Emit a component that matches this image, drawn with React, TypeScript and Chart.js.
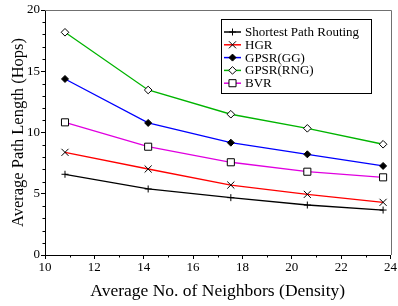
import React, { useEffect, useRef } from "react";
import { Chart, registerables } from "chart.js";

Chart.register(...registerables);

const density = [10.81, 14.18, 17.53, 20.63, 23.7];
const shortestPath = [6.59, 5.39, 4.68, 4.08, 3.67];
const hgr = [8.38, 7.02, 5.71, 4.95, 4.3];
const gpsrGG = [14.37, 10.78, 9.17, 8.22, 7.27];
const gpsrRNG = [18.18, 13.47, 11.49, 10.34, 9.04];
const bvr = [10.83, 8.84, 7.57, 6.8, 6.34];

const seriesNames = ["Shortest Path Routing", "HGR", "GPSR(GG)", "GPSR(RNG)", "BVR"];

const FONT = "'Liberation Serif', 'Times New Roman', serif";

function pts(ys: number[]) {
  return ys.map((y, i) => ({ x: density[i], y }));
}

const minorTicks = {
  id: "minorTicks",
  afterDraw(chart: any) {
    const { ctx, chartArea, scales } = chart;
    const xs = scales.x;
    const ys = scales.y;
    ctx.save();
    ctx.strokeStyle = "#000";
    ctx.lineWidth = 1;
    ctx.beginPath();
    for (let v = 10; v <= 24; v += 1) {
      if (v % 2 === 0) continue;
      const px = Math.round(xs.getPixelForValue(v)) + 0.5;
      ctx.moveTo(px, chartArea.bottom);
      ctx.lineTo(px, chartArea.bottom + 2.5);
    }
    for (let v = 0; v <= 20; v += 1) {
      if (v % 5 === 0) continue;
      const py = Math.round(ys.getPixelForValue(v)) + 0.5;
      ctx.moveTo(chartArea.left, py);
      ctx.lineTo(chartArea.left - 2.5, py);
    }
    ctx.stroke();
    // frame top/right
    ctx.strokeStyle = "#707070";
    ctx.beginPath();
    ctx.moveTo(chartArea.left, Math.round(chartArea.top) + 0.5);
    ctx.lineTo(Math.round(chartArea.right) + 0.5, Math.round(chartArea.top) + 0.5);
    ctx.lineTo(Math.round(chartArea.right) + 0.5, chartArea.bottom);
    ctx.stroke();
    ctx.restore();
  },
};

function drawMarker(ctx: CanvasRenderingContext2D, style: string, x: number, y: number, r: number, fill: string) {
  ctx.save();
  ctx.strokeStyle = "#000";
  ctx.fillStyle = fill;
  ctx.lineWidth = 1;
  ctx.beginPath();
  if (style === "cross") {
    ctx.moveTo(x - r, y);
    ctx.lineTo(x + r, y);
    ctx.moveTo(x, y - r);
    ctx.lineTo(x, y + r);
    ctx.stroke();
  } else if (style === "crossRot") {
    const d = r * Math.SQRT1_2;
    ctx.moveTo(x - d, y - d);
    ctx.lineTo(x + d, y + d);
    ctx.moveTo(x - d, y + d);
    ctx.lineTo(x + d, y - d);
    ctx.stroke();
  } else if (style === "rectRot") {
    ctx.moveTo(x, y - r);
    ctx.lineTo(x + r, y);
    ctx.lineTo(x, y + r);
    ctx.lineTo(x - r, y);
    ctx.closePath();
    ctx.fill();
    ctx.stroke();
  } else if (style === "rect") {
    const s = r * Math.SQRT1_2;
    ctx.rect(x - s, y - s, 2 * s, 2 * s);
    ctx.fill();
    ctx.stroke();
  }
  ctx.restore();
}

const boxLegend = {
  id: "boxLegend",
  afterDraw(chart: any) {
    const { ctx } = chart;
    const left = 221.5;
    const top = 19.5;
    const width = 150;
    const height = 74;
    ctx.save();
    ctx.fillStyle = "#fff";
    ctx.fillRect(left, top, width, height);
    ctx.strokeStyle = "#000";
    ctx.lineWidth = 1;
    ctx.strokeRect(left, top, width, height);
    ctx.font = "13px " + FONT;
    ctx.textBaseline = "middle";
    ctx.textAlign = "left";
    chart.data.datasets.forEach((ds: any, i: number) => {
      const y = 32 + i * 12.8;
      ctx.strokeStyle = ds.borderColor;
      ctx.lineWidth = 1.5;
      ctx.beginPath();
      ctx.moveTo(224, y);
      ctx.lineTo(241, y);
      ctx.stroke();
      drawMarker(ctx, ds.pointStyle, 232.5, y, ds.pointRadius, ds.pointBackgroundColor);
      ctx.fillStyle = "#000";
      ctx.fillText(ds.label, 245, y + 0.5);
    });
    ctx.restore();
  },
};

export default function App() {
  const ref = useRef<HTMLCanvasElement | null>(null);
  useEffect(() => {
    document.body.style.margin = "0";
    const canvas = ref.current!;
    const mk = (i: number, data: number[], color: string, style: string, r: number, fill: string) => ({
      label: seriesNames[i],
      data: pts(data),
      borderColor: color,
      borderWidth: 1.3,
      pointStyle: style,
      pointRadius: r,
      pointBorderColor: "#000",
      pointBackgroundColor: fill,
      pointBorderWidth: 1,
      fill: false,
      tension: 0,
    });
    const chart = new Chart(canvas, {
      type: "line",
      data: {
        datasets: [
          mk(0, shortestPath, "#000000", "cross", 3.5, "#000"),
          mk(1, hgr, "#ff0000", "crossRot", 5, "#000"),
          mk(2, gpsrGG, "#0000ff", "rectRot", 3.5, "#000"),
          mk(3, gpsrRNG, "#00b400", "rectRot", 3.8, "#fff"),
          mk(4, bvr, "#e000e0", "rect", 5, "#fff"),
        ] as any,
      },
      options: {
        responsive: false,
        animation: false,
        layout: { padding: { left: 0, top: 10, right: 6, bottom: 0 } },
        plugins: { legend: { display: false }, tooltip: { enabled: false } },
        scales: {
          x: {
            type: "linear",
            min: 10,
            max: 24,
            afterFit: (s: any) => { s.height = 51; },
            ticks: { stepSize: 2, color: "#000", font: { family: FONT, size: 13 }, padding: 1, maxRotation: 0 },
            grid: { drawOnChartArea: false, drawTicks: true, tickLength: 4, color: "#000" },
            border: { color: "#000" },
            title: { display: true, text: "Average No. of Neighbors (Density)", color: "#000", font: { family: FONT, size: 17.5 }, padding: { top: 0, bottom: 4 } },
          },
          y: {
            type: "linear",
            min: 0,
            max: 20,
            afterFit: (s: any) => { s.width = 45; },
            ticks: { stepSize: 5, color: "#000", font: { family: FONT, size: 13 }, padding: 1 },
            grid: { drawOnChartArea: false, drawTicks: true, tickLength: 4, color: "#000" },
            border: { color: "#000" },
            title: { display: true, text: "Average Path Length (Hops)", color: "#000", font: { family: FONT, size: 16.5 }, padding: { top: 8.5, bottom: 0 } },
          },
        },
      } as any,
      plugins: [minorTicks, boxLegend],
    });
    return () => chart.destroy();
  }, []);
  return (
    <div style={{ position: "fixed", left: 0, top: 0, width: 398, height: 306, background: "#fff" }}>
      <canvas ref={ref} width={398} height={306} />
    </div>
  );
}
